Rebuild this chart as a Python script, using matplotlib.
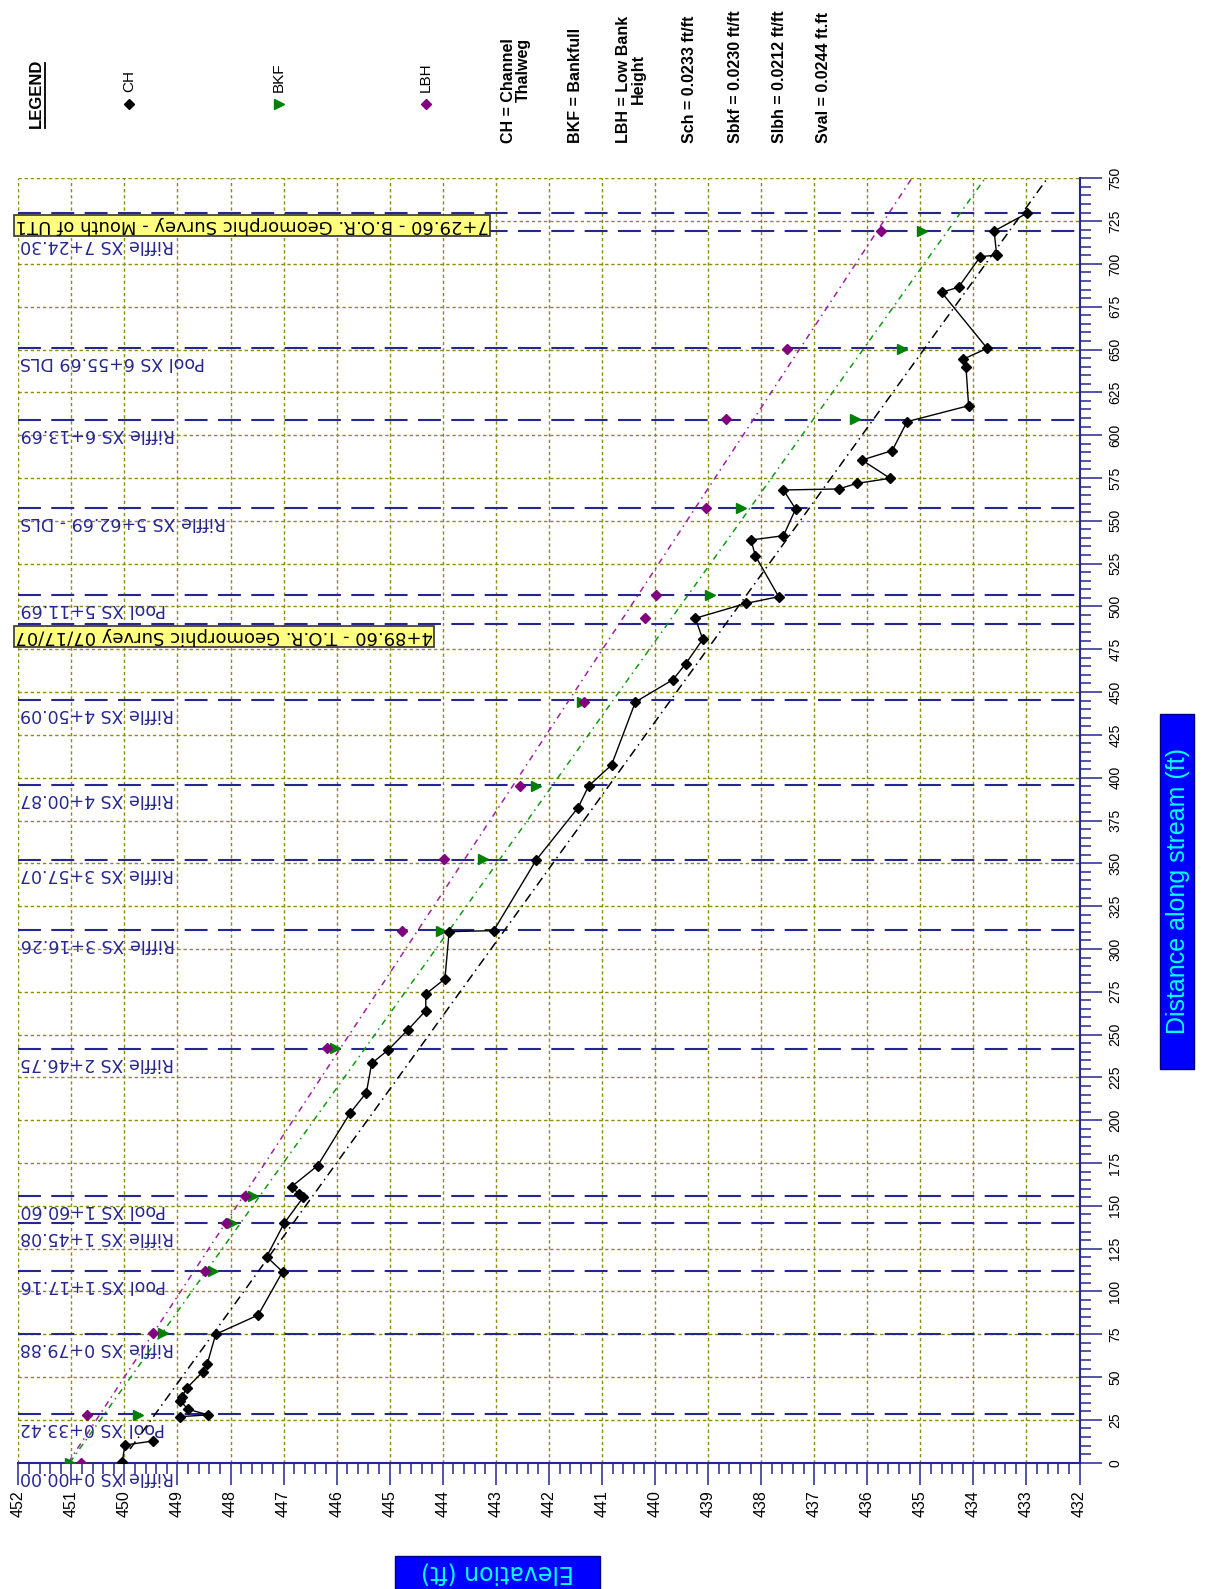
import matplotlib
matplotlib.use("Agg")
import matplotlib.pyplot as plt
from matplotlib import font_manager
from matplotlib.lines import Line2D
from matplotlib.patches import Rectangle
from matplotlib.ticker import MultipleLocator
import numpy as np

# ---------------- data ----------------
# channel thalweg (distance along stream ft, elevation ft); NaN = gap in survey line
ch_dist = [0.6, 10.3, 12.7, np.nan, 26.9, 27.9, 31.2, 36.2, 38.2, 43.4, 53.2, 57.6,
           75.0, 86.2, 111.5, 120.3, 139.8, 155.0, 156.9, 161.2, 173.4, 204.0,
           216.1, 233.2, 241.0, 252.7, 264.0, 273.7, 282.5, 310.1, 310.7, 351.9,
           382.5, 395.2, 407.4, 444.2, 457.3, 466.6, 480.8, 493.1, 501.8, 505.7,
           529.6, 538.8, 541.3, 556.9, 568.0, 568.6, 571.9, 574.8, 585.5, 591.0,
           607.9, 617.2, 640.0, 644.3, 650.7, 683.4, 686.4, 704.2, 705.2, 719.2,
           729.6]
ch_elev = [450.04, 449.99, 449.46, np.nan, 448.95, 448.42, 448.80, 448.95, 448.92,
           448.83, 448.52, 448.44, 448.28, 447.48, 447.02, 447.32, 446.99, 446.63,
           446.71, 446.85, 446.36, 445.75, 445.44, 445.34, 445.03, 444.66, 444.32,
           444.32, 443.96, 443.88, 443.04, 442.24, 441.45, 441.25, 440.82, 440.37,
           439.66, 439.42, 439.10, 439.24, 438.28, 437.67, 438.11, 438.19, 437.58,
           437.35, 437.58, 436.54, 436.19, 435.57, 436.10, 435.53, 435.25, 434.09,
           434.14, 434.20, 433.74, 434.60, 434.28, 433.87, 433.56, 433.61, 432.99]

# bankfull
bkf_dist = [0.0, 27.9, 75.5, 112.1, 139.8, 155.7, 242.0, 310.7, 352.3, 395.3,
            444.4, 506.7, 557.3, 609.3, 650.3, 719.3]
bkf_elev = [451.03, 449.74, 449.28, 448.33, 447.98, 447.57, 446.04, 444.03, 443.24,
            442.24, 441.38, 438.96, 438.38, 436.23, 435.35, 434.97]

# low bank height
lbh_dist = [0.0, 27.9, 75.5, 112.1, 139.8, 155.7, 242.0, 310.7, 352.3, 395.3,
            444.4, 493.1, 506.7, 557.3, 609.3, 650.3, 719.3]
lbh_elev = [450.82, 450.70, 449.46, 448.48, 448.08, 447.72, 446.18, 444.77, 443.98,
            442.55, 441.33, 440.18, 439.98, 439.04, 438.67, 437.51, 435.75]

# slope lines: CH, BKF, LBH
fit_slope = [0.0233, 0.0230, 0.0212]
fit_intercept = [450.08, 451.03, 451.06]
fit_start = [8.0, 0.0, 0.0]
fit_end = [750.0, 750.0, 750.0]

# cross sections (station ft); survey distance starts 5 ft downstream of station 0+00
xs_labels = ["Riffle XS 0+00.00", "Pool XS 0+33.42", "Riffle XS 0+79.88",
             "Pool XS 1+17.16", "Riffle XS 1+45.08", "Pool XS 1+60.60",
             "Riffle XS 2+46.75", "Riffle XS 3+16.26", "Riffle XS 3+57.07",
             "Riffle XS 4+00.87", "Riffle XS 4+50.09", "Pool XS 5+11.69",
             "Riffle XS 5+62.69 - DLS", "Riffle XS 6+13.69", "Pool XS 6+55.69 DLS",
             "Riffle XS 7+24.30"]
xs_stations = [0.00, 33.42, 79.88, 117.16, 145.08, 160.60, 246.75, 316.26, 357.07,
               400.87, 450.09, 511.69, 562.69, 613.69, 655.69, 724.30]
STATION_OFFSET = 5.0

ann_stations = [489.60, 729.60]
ann_labels = ["4+89.60 - T.O.R. Geomorphic Survey 07/17/07",
              "7+29.60 - B.O.R. Geomorphic Survey - Mouth of UT1"]

elev_ticks = list(range(432, 453))
dist_ticks = list(range(0, 751, 25))

legend_series = ["CH", "BKF", "LBH"]
legend_defs = ["CH = Channel\nThalweg", "BKF = Bankfull", "LBH = Low Bank\nHeight"]
slope_labels = ["Sch = 0.0233 ft/ft", "Sbkf = 0.0230 ft/ft",
                "Slbh = 0.0212 ft/ft", "Sval = 0.0244 ft.ft"]

# ---------------- styling ----------------
NAVY = "#26268f"
OLIVE = "#8c8c14"
CH_C, BKF_C, LBH_C = "black", "#008000", "#800080"
FIT_C = ["black", "#119911", "#a020a0"]

names = {f.name for f in font_manager.fontManager.ttflist}
ARIAL = "Liberation Sans" if "Liberation Sans" in names else "DejaVu Sans"
NARROW = "Liberation Sans Narrow" if "Liberation Sans Narrow" in names else ARIAL

W, H = 1207, 1589
fig = plt.figure(figsize=(W / 100, H / 100), dpi=100)


def fx(px):
    return px / W


def fy(py):
    return 1 - py / H


left_px, right_px, top_px, bot_px = 18.3, 1079.5, 178.3, 1462.7
ax = fig.add_axes([fx(left_px), fy(bot_px), (right_px - left_px) / W, (bot_px - top_px) / H])
ax.set_xlim(452, 432)
ax.set_ylim(0, 750)

ax.set_xticks(elev_ticks)
ax.set_xticklabels([str(v) for v in elev_ticks])
ax.set_yticks(dist_ticks)
ax.set_yticklabels([str(v) for v in dist_ticks])
ax.xaxis.set_minor_locator(MultipleLocator(0.2))
ax.yaxis.set_minor_locator(MultipleLocator(5))
ax.yaxis.tick_right()

for s in ("left", "top"):
    ax.spines[s].set_visible(False)
for s in ("bottom", "right"):
    ax.spines[s].set_color(NAVY)
    ax.spines[s].set_linewidth(1.5)

ax.tick_params(axis="both", which="major", direction="out", length=15.8, width=1.1,
               color=NAVY)
ax.tick_params(axis="both", which="minor", direction="out", length=8, width=1.1,
               color=NAVY)
ax.tick_params(axis="x", which="major", pad=4, labelrotation=90)
ax.tick_params(axis="y", which="major", pad=5, labelrotation=90)
for lab in ax.get_xticklabels():
    lab.set_fontfamily(ARIAL)
    lab.set_fontsize(11.5)
for lab in ax.get_yticklabels():
    lab.set_fontfamily(NARROW)
    lab.set_fontsize(10)
    lab.set_va("center")

ax.grid(True, which="major", color=OLIVE, linestyle=(0, (2.4, 2.0)), linewidth=1.0)
ax.set_axisbelow(True)

# cross-section lines and labels
for lab, st in zip(xs_labels, xs_stations):
    d = st - STATION_OFFSET
    if d > 0:
        ax.axhline(d, color=NAVY, lw=1.5, dashes=(11, 5), zorder=2)
    ax.annotate(lab, xy=(452, max(d, 0)), xytext=(2, -5), textcoords="offset pixels",
                rotation=180, ha="left", va="top", color=NAVY, fontsize=12.5,
                family="DejaVu Sans", annotation_clip=False, zorder=3)

# survey annotation lines
for lab, st in zip(ann_labels, ann_stations):
    ax.axhline(st, color=NAVY, lw=1.5, dashes=(11, 5), zorder=2)
    ax.annotate(lab, xy=(452, st), xytext=(-3, -3), textcoords="offset pixels",
                rotation=180, ha="left", va="top", color="black", fontsize=13,
                family="DejaVu Sans", annotation_clip=False, zorder=6,
                bbox=dict(boxstyle="square,pad=0.08", fc="#ffff80", ec="#333333", lw=1.2))

# slope lines
fit_dashes = [(6, 3, 1, 3), (4, 3, 1, 3), (4, 3, 1, 3)]
for k in range(3):
    dd = np.array([fit_start[k], fit_end[k]])
    ee = fit_intercept[k] - fit_slope[k] * dd
    ax.plot(ee, dd, color=FIT_C[k], lw=1.1, dashes=fit_dashes[k], zorder=3)

# survey points
ax.plot(ch_elev, ch_dist, color=CH_C, lw=1.0, marker="D", ms=5.5, zorder=5)
ax.plot(bkf_elev, bkf_dist, ls="none", color=BKF_C, marker=">", ms=7, zorder=4)
ax.plot(lbh_elev, lbh_dist, ls="none", color=LBH_C, marker="D", ms=5.5, zorder=4)

# ---------------- axis title boxes ----------------
fig.add_artist(Rectangle((fx(395), fy(1592)), (600 - 395) / W, (1592 - 1556) / H,
                         transform=fig.transFigure, fc="#0000ff", ec="#000080", lw=1))
fig.text(fx(497.5), fy(1573), "Elevation (ft)", rotation=180, ha="center", va="center",
         color="#00ffff", fontsize=17, family="DejaVu Sans")
fig.add_artist(Rectangle((fx(1160), fy(1069)), (1194 - 1160) / W, (1069 - 714) / H,
                         transform=fig.transFigure, fc="#0000ff", ec="#000080", lw=1))
fig.text(fx(1178), fy(891.5), "Distance along stream (ft)", rotation=90, ha="center",
         va="center", color="#00ffff", fontsize=18, family=ARIAL)

# ---------------- legend block ----------------
base_y = 143
fig.text(fx(36), fy(128), "LEGEND", rotation=90, rotation_mode="anchor", ha="left",
         va="center", fontsize=12, fontweight="bold", family=ARIAL)
fig.add_artist(Line2D([fx(45), fx(45)], [fy(128), fy(63)], transform=fig.transFigure,
                      color="black", lw=1.3))

legend_x = [129, 279, 426]
legend_marker = [("D", CH_C, 5), (">", BKF_C, 7), ("D", LBH_C, 5)]
for name, x, (mk, col, ms) in zip(legend_series, legend_x, legend_marker):
    fig.add_artist(Line2D([fx(x)], [fy(104)], transform=fig.transFigure, marker=mk,
                          color=col, ms=ms, ls="none"))
    fig.text(fx(x), fy(92), name, rotation=90, rotation_mode="anchor", ha="left",
             va="center", fontsize=11, family=ARIAL)

defs_x = [516, 576, 631]
defs_align = ["right", "left", "center"]
for txt, x, al in zip(legend_defs, defs_x, defs_align):
    fig.text(fx(x), fy(base_y), txt, rotation=90, rotation_mode="anchor", ha="left",
             va="center", multialignment=al, fontsize=11.5, fontweight="bold",
             family=ARIAL, linespacing=1.0)

slope_x = [689, 735, 780, 823]
for txt, x in zip(slope_labels, slope_x):
    fig.text(fx(x), fy(base_y), txt, rotation=90, rotation_mode="anchor", ha="left",
             va="center", fontsize=11.5, fontweight="bold", family=ARIAL)

fig.savefig("out.png", dpi=100, facecolor="white")
